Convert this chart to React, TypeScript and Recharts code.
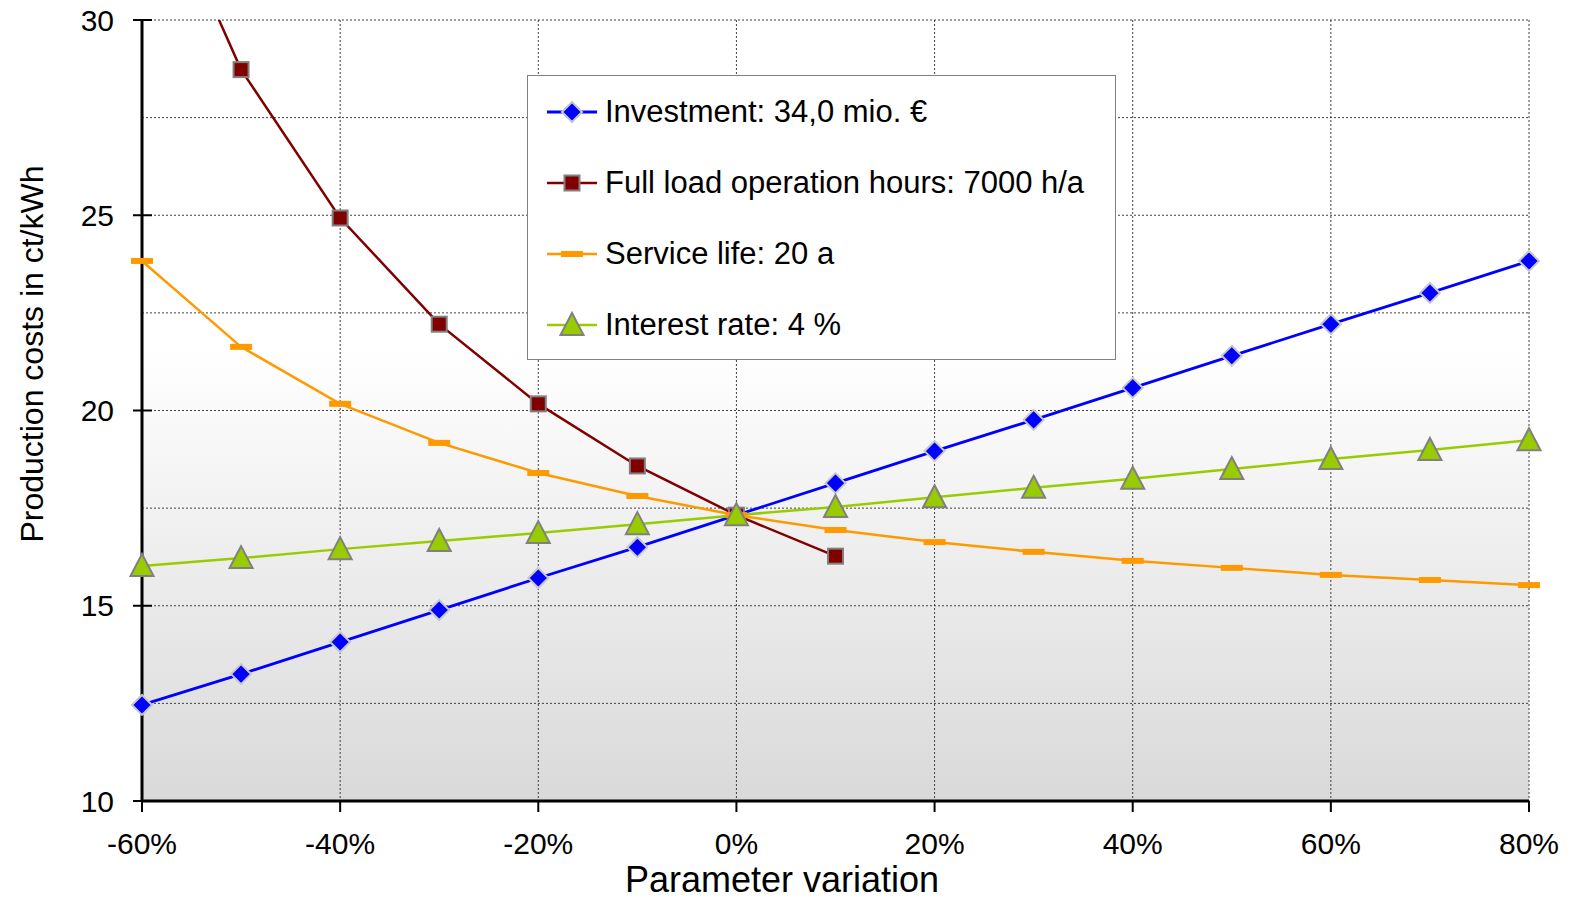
import React from 'react';
import { LineChart, Line, XAxis, YAxis, CartesianGrid, Legend } from 'recharts';

// parameter variation in %
const variation = [-60, -50, -40, -30, -20, -10, 0, 10, 20, 30, 40, 50, 60, 70, 80];

// production costs in ct/kWh
const investment = [12.46, 13.25, 14.07, 14.89, 15.71, 16.5, 17.32, 18.14, 18.96, 19.76, 20.58, 21.4, 22.21, 23.01, 23.83];
const fullLoad = [34.44, 28.73, 24.93, 22.21, 20.17, 18.58, 17.32, 16.27, null, null, null, null, null, null, null];
const serviceLife = [23.83, 21.63, 20.17, 19.17, 18.4, 17.81, 17.32, 16.94, 16.63, 16.38, 16.15, 15.97, 15.79, 15.66, 15.53];
const interestRate = [16.02, 16.22, 16.45, 16.66, 16.86, 17.09, 17.32, 17.53, 17.78, 18.02, 18.25, 18.5, 18.76, 18.99, 19.24];

const xTicks = [-60, -40, -20, 0, 20, 40, 60, 80];
const yTicks = [10, 15, 20, 25, 30];
const yGrid = [12.5, 15, 17.5, 20, 22.5, 25, 27.5, 30];

const data = variation.map((v, i) => ({
  v,
  investment: investment[i],
  fullLoad: fullLoad[i],
  serviceLife: serviceLife[i],
  interestRate: interestRate[i],
}));

const FONT = '"Liberation Sans", Arial, Helvetica, sans-serif';

const Diamond = ({ cx, cy }: any) => (
  <path
    d={`M${cx},${cy - 10} L${cx + 10},${cy} L${cx},${cy + 10} L${cx - 10},${cy} Z`}
    fill='#0000ff'
    stroke='#c8c8c8'
    strokeWidth={2}
  />
);

const Square = ({ cx, cy }: any) => (
  <rect x={cx - 7.5} y={cy - 7.5} width={15} height={15} fill='#800000' stroke='#808080' strokeWidth={2} />
);

const Dash = ({ cx, cy }: any) => (
  <rect x={cx - 11} y={cy - 3} width={22} height={6} fill='#ff9900' />
);

const Triangle = ({ cx, cy }: any) => (
  <path
    d={`M${cx},${cy - 12} L${cx + 11.5},${cy + 10} L${cx - 11.5},${cy + 10} Z`}
    fill='#99cc00'
    stroke='#808080'
    strokeWidth={2}
  />
);

const series = [
  { key: 'investment', name: 'Investment: 34,0 mio. €', color: '#0000ff', width: 2.8, Marker: Diamond },
  { key: 'fullLoad', name: 'Full load operation hours: 7000 h/a', color: '#800000', width: 2.5, Marker: Square },
  { key: 'serviceLife', name: 'Service life: 20 a', color: '#ff9900', width: 2.5, Marker: Dash },
  { key: 'interestRate', name: 'Interest rate: 4 %', color: '#99cc00', width: 2.5, Marker: Triangle },
];

const makeDot = (Marker: any) => (props: any) => {
  const { cx, cy, index, value } = props;
  if (cx == null || cy == null || value == null) return <g key={`e-${index}`} />;
  return (
    <g key={`m-${index}`}>
      <Marker cx={cx} cy={cy} />
    </g>
  );
};

const YTick = (props: any) => {
  const { x, y, payload } = props;
  return (
    <g>
      <line x1={x + 19} x2={x + 38} y1={y} y2={y} stroke='#000' strokeWidth={2} />
      <text x={x} y={y} dy='0.355em' textAnchor='end' fontSize={30} fill='#000' fontFamily={FONT}>
        {payload.value}
      </text>
    </g>
  );
};

const YTitle = () => (
  <text
    x={43}
    y={354}
    transform='rotate(-90, 43, 354)'
    textAnchor='middle'
    fontSize={32}
    fill='#000'
    fontFamily={FONT}
  >
    Production costs in ct/kWh
  </text>
);

const XTitle = () => (
  <text x={782} y={892} textAnchor='middle' fontSize={36} fill='#000' fontFamily={FONT}>
    Parameter variation
  </text>
);

// legend keeps the series order, not the alphabetical payload order
const LegendBox = () => {
  return (
    <div
      style={{
        width: 589,
        height: 285,
        boxSizing: 'border-box',
        border: '1.5px solid #808080',
        background: '#fff',
        fontFamily: FONT,
      }}
    >
      {series.map((s) => {
        const M = s.Marker;
        return (
          <div key={s.key} style={{ height: 71, display: 'flex', alignItems: 'center' }}>
            <svg width={52} height={26} style={{ marginLeft: 19, marginRight: 6, overflow: 'visible' }}>
              <line x1={0} x2={50} y1={13} y2={13} stroke={s.color} strokeWidth={s.width} />
              <M cx={25} cy={13} />
            </svg>
            <span style={{ fontSize: 31, color: '#000', whiteSpace: 'nowrap' }}>{s.name}</span>
          </div>
        );
      })}
    </div>
  );
};

export default function App() {
  return (
    <div style={{ position: 'absolute', left: 0, top: 0, background: '#fff' }}>
      <LineChart
        width={1574}
        height={902}
        data={data}
        margin={{ top: 20, right: 45, left: 0, bottom: 0 }}
        style={{ fontFamily: FONT }}
      >
        <defs>
          <linearGradient id='plotBg' x1='0' y1='0' x2='0' y2='1'>
            <stop offset='0' stopColor='#ffffff' />
            <stop offset='0.42' stopColor='#ffffff' />
            <stop offset='1' stopColor='#d9d9d9' />
          </linearGradient>
        </defs>
        <CartesianGrid
          fill='url(#plotBg)'
          stroke='#404040'
          strokeDasharray='2 2'
          horizontalValues={yGrid}
        />
        <XAxis
          dataKey='v'
          type='number'
          domain={[-60, 80]}
          ticks={xTicks}
          tickFormatter={(v: number) => `${v}%`}
          axisLine={{ stroke: '#000', strokeWidth: 3 }}
          tickLine={{ stroke: '#000', strokeWidth: 2 }}
          tickSize={11}
          tickMargin={21}
          tick={{ fill: '#000', fontSize: 30, fontFamily: FONT }}
          height={101}
          label={<XTitle />}
        />
        <YAxis
          type='number'
          domain={[10, 30]}
          ticks={yTicks}
          allowDataOverflow
          width={142}
          axisLine={{ stroke: '#000', strokeWidth: 3 }}
          tickLine={false}
          tickSize={10}
          tickMargin={18}
          tick={(p: any) => <YTick {...p} />}
          label={<YTitle />}
        />
        <Legend
          layout='vertical'
          align='center'
          verticalAlign='middle'
          wrapperStyle={{ left: 527, top: 75, width: 589, height: 285 }}
          content={() => <LegendBox />}
        />
        {series.map((s) => (
          <Line
            key={s.key}
            dataKey={s.key}
            name={s.name}
            stroke={s.color}
            strokeWidth={s.width}
            dot={makeDot(s.Marker)}
            activeDot={false}
            connectNulls={false}
            isAnimationActive={false}
          />
        ))}
      </LineChart>
    </div>
  );
}
